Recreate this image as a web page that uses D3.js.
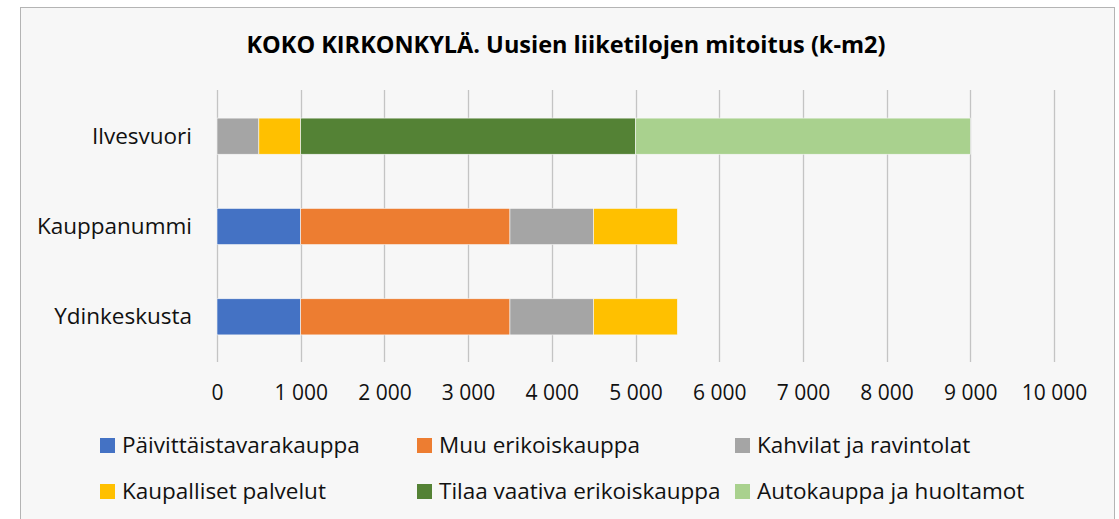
<!DOCTYPE html>
<html>
<head>
<meta charset="utf-8">
<script src="https://cdn.jsdelivr.net/npm/d3@7"></script>
<style>
  body { margin: 0; background: #ffffff; }
  svg { display: block; font-family: "Open Sans", sans-serif; }
</style>
</head>
<body>
<div id="chart"></div>
<script>
"use strict";

// Categories (top to bottom as drawn).
var categories = ["Ilvesvuori", "Kauppanummi", "Ydinkeskusta"];

// Series names and values per category (k-m2).
var seriesNames = [
    "Päivittäistavarakauppa",
    "Muu erikoiskauppa",
    "Kahvilat ja ravintolat",
    "Kaupalliset palvelut",
    "Tilaa vaativa erikoiskauppa",
    "Autokauppa ja huoltamot"
];
var paivittaistavara = [0, 1000, 1000];
var muuErikois = [0, 2500, 2500];
var kahvilat = [500, 1000, 1000];
var kaupalliset = [500, 1000, 1000];
var tilaaVaativa = [4000, 0, 0];
var autokauppa = [4000, 0, 0];

var colors = ["#4472c4", "#ed7d31", "#a5a5a5", "#ffc000", "#548235", "#a9d18e"];
var xTicks = [0, 1000, 2000, 3000, 4000, 5000, 6000, 7000, 8000, 9000, 10000];

var seriesValues = [paivittaistavara, muuErikois, kahvilat, kaupalliset, tilaaVaativa, autokauppa];
var rows = categories.map(function (c, i) {
    var r = {category: c};
    seriesNames.forEach(function (s, j) { r[s] = seriesValues[j][i]; });
    return r;
});

var width = 1119, height = 519;
var svg = d3.select("#chart").append("svg")
    .attr("width", width)
    .attr("height", height);

// Chart frame.
svg.append("rect")
    .attr("x", 20.5).attr("y", 7.5)
    .attr("width", 1094).attr("height", 530)
    .attr("fill", "#f7f7f7")
    .attr("stroke", "#b4b4b4")
    .attr("stroke-width", 1);

svg.append("text")
    .attr("x", 566).attr("y", 53)
    .attr("text-anchor", "middle")
    .attr("font-size", 23.5)
    .attr("font-weight", "bold")
    .attr("fill", "#000")
    .text("KOKO KIRKONKYLÄ. Uusien liiketilojen mitoitus (k-m2)");

var x = d3.scaleLinear().domain([0, 10000]).range([217, 1054]);
var y = d3.scaleBand().domain(categories).range([91, 362]).paddingInner(0.6).paddingOuter(0.3);

// Gridlines.
svg.append("g")
    .selectAll("line")
    .data(xTicks)
    .enter().append("line")
    .attr("x1", function (d) { return Math.round(x(d)) + 0.5; })
    .attr("x2", function (d) { return Math.round(x(d)) + 0.5; })
    .attr("y1", 90).attr("y2", 362)
    .attr("stroke", "#c4c4c4")
    .attr("stroke-width", 1.3);

// Stacked bars.
var stack = d3.stack().keys(seriesNames);
var layers = stack(rows);

svg.append("g")
    .selectAll("g")
    .data(layers)
    .enter().append("g")
    .attr("fill", function (d, i) { return colors[i]; })
    .selectAll("rect")
    .data(function (d) { return d.filter(function (p) { return p[1] > p[0]; }); })
    .enter().append("rect")
    .attr("x", function (d) { return x(d[0]); })
    .attr("width", function (d) { return x(d[1]) - x(d[0]); })
    .attr("y", function (d) { return y(d.data.category); })
    .attr("height", y.bandwidth())
    .attr("stroke", "#f7f7f7")
    .attr("stroke-width", 0.6);

// X axis labels.
var xAxis = d3.axisBottom(x)
    .tickValues(xTicks)
    .tickSize(0)
    .tickPadding(0)
    .tickFormat(function (d) { return d3.format(",")(d).replace(/,/g, " "); });

var gx = svg.append("g")
    .attr("transform", "translate(0,400)")
    .call(xAxis);
gx.select(".domain").remove();
gx.selectAll("text")
    .attr("dy", 0)
    .attr("font-size", 21)
    .attr("font-family", "'Open Sans', sans-serif")
    .attr("fill", "#111");

// Y axis labels.
var yAxis = d3.axisLeft(y).tickSize(0).tickPadding(0);
var gy = svg.append("g")
    .attr("transform", "translate(192,0)")
    .call(yAxis);
gy.select(".domain").remove();
gy.selectAll("text")
    .attr("dy", 7.5)
    .attr("font-size", 22.5)
    .attr("font-family", "'Open Sans', sans-serif")
    .attr("fill", "#111");

// Legend.
var legendX = [100, 417, 735];
var legendY = [445.5, 491.5];
var legend = svg.append("g")
    .selectAll("g")
    .data(seriesNames)
    .enter().append("g")
    .attr("transform", function (d, i) {
        return "translate(" + legendX[i % 3] + "," + legendY[Math.floor(i / 3)] + ")";
    });
legend.append("rect")
    .attr("x", 0).attr("y", -7.5)
    .attr("width", 15).attr("height", 15)
    .attr("fill", function (d, i) { return colors[i]; });
legend.append("text")
    .attr("x", 22).attr("y", 7.5)
    .attr("font-size", 22.5)
    .attr("fill", "#111")
    .text(function (d) { return d; });
</script>
</body>
</html>
